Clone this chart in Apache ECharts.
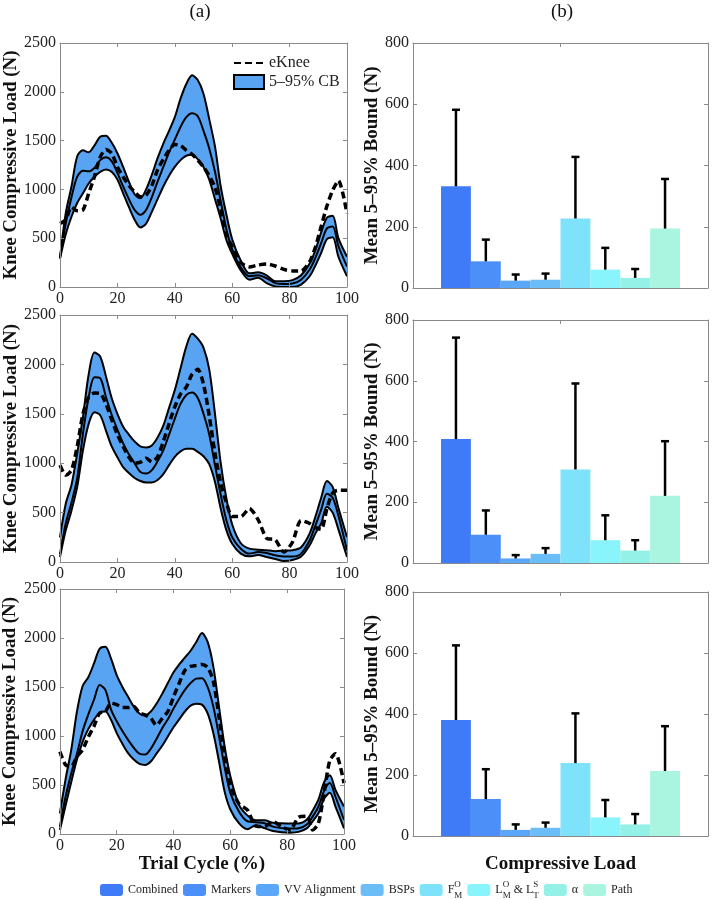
<!DOCTYPE html>
<html><head><meta charset="utf-8">
<script src="https://cdn.jsdelivr.net/npm/echarts@6/dist/echarts.min.js"></script>
<style>html,body{margin:0;padding:0;background:#fff}#c{width:713px;height:900px}</style>
</head><body><div id="c"></div>
<script>
// ---------- data ----------
const X = [0,2,4,6,8,10,12,14,16,18,20,22,24,26,28,30,32,34,36,38,40,42,44,46,48,50,52,54,56,58,60,63,66,69,72,75,78,81,84,87,89,91,93,95,97,100];
const X_TICKS = [0,20,40,60,80,100];

// panel 1
const UPPER_1 = [300,756,1029,1340,1400,1380,1450,1540,1550,1480,1370,1230,1080,950,910,1000,1150,1320,1470,1600,1740,1930,2080,2170,2120,1980,1720,1440,1030,740,490, 270,140,150,120,60,60,70,120,240, 380,560,710,730,500,310];
const MEAN_1  = [300,650,920,1130,1190,1185,1220,1300,1330,1290,1170,1030,900,790,740,790,920,1080,1230,1380,1510,1640,1740,1780,1750,1600,1420,1180,880,590,385, 200,110,120,90,40,30,35,75,180, 300,450,600,620,420,210];
const LOWER_1 = [290,540,720,860,960,1060,1130,1180,1205,1180,1100,960,820,690,610,650,770,900,1030,1140,1230,1300,1345,1355,1310,1230,1100,900,700,480,340, 170,75,95,40,5,0,0,25,110, 220,350,490,510,310,110];
const EKNEE_1 = [650,690,820,780,790,960,1130,1330,1410,1370,1230,1130,1040,975,925,940,1040,1200,1310,1400,1460,1450,1400,1360,1300,1230,1140,1020,800,540,410, 250,205,225,235,215,180,165,165,260, 410,620,830,990,1090,750];

// panel 2
const UPPER_2 = [250,590,780,1100,1470,1900,2120,2080,1880,1660,1500,1370,1290,1220,1170,1160,1180,1260,1380,1560,1740,1960,2180,2310,2260,2170,1950,1500,1000,640,380, 190,135,125,120,110,115,120,150,290, 460,650,820,760,550,250];
const MEAN_2  = [80,390,600,850,1300,1670,1870,1860,1670,1490,1340,1200,1090,1000,910,895,930,1020,1130,1290,1450,1600,1690,1715,1660,1500,1290,980,680,420,250, 135,85,100,90,68,55,55,85,220, 370,530,690,650,470,118];
const LOWER_2 = [50,320,520,760,1130,1400,1515,1485,1330,1170,1060,960,900,850,820,805,805,830,890,980,1065,1120,1145,1145,1115,1070,990,810,540,320,185, 85,57,70,50,30,10,20,55,170, 290,390,560,500,330,50];
const EKNEE_2 = [980,880,930,1170,1500,1670,1710,1705,1600,1440,1290,1170,1060,1000,1010,1050,1015,1065,1220,1400,1570,1700,1770,1900,1950,1800,1480,1100,800,600,460, 460,540,430,240,225,100,200,420,390, 350,330,540,700,725,725];

// panel 3
const UPPER_3 = [210,560,860,1250,1510,1600,1740,1890,1910,1790,1620,1500,1400,1300,1230,1210,1250,1330,1430,1540,1650,1730,1800,1870,1960,2050,1960,1710,1300,890,590, 300,190,140,140,115,110,108,108,150, 240,350,530,600,450,280];
const MEAN_3  = [75,380,620,820,1050,1220,1370,1520,1470,1270,1150,1050,960,880,820,810,870,970,1080,1170,1280,1380,1470,1540,1585,1590,1500,1300,1000,680,420, 230,130,120,110,75,60,55,58,100, 180,280,440,520,380,143];
const LOWER_3 = [40,290,530,760,940,1070,1165,1240,1250,1165,1030,920,825,760,715,705,740,820,900,995,1090,1170,1250,1310,1330,1320,1230,1030,740,430,250, 110,48,90,60,30,18,14,22,60, 130,211,360,420,280,58];
const EKNEE_3 = [840,705,690,790,860,990,1100,1235,1250,1335,1320,1290,1290,1300,1235,1215,1180,1110,1180,1250,1400,1540,1670,1710,1720,1730,1700,1560,1200,800,500, 310,245,80,75,126,75,40,170,180, 41,110,420,750,820,520];

// bar panels
const CATEGORIES = ['Combined','Markers','VV Alignment','BSPs','F_M^O','L_M^O & L_T^S','α','Path'];
const BAR_MEAN_1 = [332,87,24,27,227,60,33,194];
const BAR_UP_1   = [582,158,44,47,428,131,62,356];
const BAR_MEAN_2 = [408,93,15,30,308,75,41,221];
const BAR_UP_2   = [742,173,26,49,591,157,75,401];
const BAR_MEAN_3 = [380,121,20,27,239,61,38,213];
const BAR_UP_3   = [625,219,38,44,402,118,72,360];

// ---------- styling ----------
const FONT = 'Liberation Serif';
const AX = '#8a8a8a';
const FILL = '#58a4f2';
const COLORS = ['#3f7bf7','#4c8ff8','#5aa6f8','#6bbdf8','#7ee2fb','#89f4fc','#93f1e8','#aaf5e0'];
const GAP = 0.19;

const panels = [
  {U:UPPER_1,M:MEAN_1,L:LOWER_1,E:EKNEE_1},
  {U:UPPER_2,M:MEAN_2,L:LOWER_2,E:EKNEE_2},
  {U:UPPER_3,M:MEAN_3,L:LOWER_3,E:EKNEE_3}
];
const bars = [
  {mean:BAR_MEAN_1, up:BAR_UP_1},
  {mean:BAR_MEAN_2, up:BAR_UP_2},
  {mean:BAR_MEAN_3, up:BAR_UP_3}
];

const gridsL = [
  {left:60, top:43, width:287, height:244},
  {left:60, top:315, width:287, height:247},
  {left:59, top:589, width:285, height:245}
];
const gridsR = [
  {left:413, top:43, width:295, height:245},
  {left:413, top:320, width:295, height:243},
  {left:413, top:592, width:295, height:244}
];
const grid = gridsL.concat(gridsR).map(g => Object.assign({containLabel:false}, g));

const xAxis = [], yAxis = [];
const tick = {show:true, inside:true, length:4, lineStyle:{color:AX}};
const line = {show:true, onZero:false, lineStyle:{color:AX, width:1}};
const lab = {fontFamily:FONT, fontSize:16, color:'#222', formatter: v => String(v)};
const nameStyle = {fontFamily:FONT, fontSize:19, fontWeight:'bold', color:'#111'};

// main axes 0..5
for (let i = 0; i < 3; i++) {
  xAxis.push({gridIndex:i, type:'value', min:0, max:100, interval:20, axisLine:line, axisTick:tick, z:10,
    axisLabel:Object.assign({margin:4}, lab), splitLine:{show:false},
    name: i === 2 ? 'Trial Cycle (%)' : '', nameLocation:'middle', nameGap:20, nameTextStyle:nameStyle});
  yAxis.push({gridIndex:i, type:'value', min:0, max:2500, interval:500, axisLine:line, axisTick:tick, z:10,
    axisLabel:Object.assign({margin:4}, lab), splitLine:{show:false},
    name:'Knee Compressive Load (N)', nameLocation:'middle', nameGap:38, nameTextStyle:nameStyle});
}
for (let k = 0; k < 3; k++) {
  xAxis.push({gridIndex:3+k, type:'category', data:['Compressive Load'], axisLine:line, axisTick:{show:false},
    axisLabel:{show:false}, splitLine:{show:false},
    name: k === 2 ? 'Compressive Load' : '', nameLocation:'middle', nameGap:19, nameTextStyle:nameStyle});
  yAxis.push({gridIndex:3+k, type:'value', min:0, max:800, interval:200, axisLine:line, axisTick:tick,
    axisLabel:Object.assign({margin:4}, lab), splitLine:{show:false},
    name:'Mean 5\u201395% Bound (N)', nameLocation:'middle', nameGap:27, nameTextStyle:nameStyle});
}
// mirror axes 6..11
for (let i = 0; i < 3; i++) {
  xAxis.push({gridIndex:i, type:'value', position:'top', min:0, max:100, interval:20, axisLine:line, axisTick:tick, z:10, axisLabel:{show:false}, splitLine:{show:false}});
  yAxis.push({gridIndex:i, type:'value', position:'right', min:0, max:2500, interval:500, axisLine:line, axisTick:tick, z:10, axisLabel:{show:false}, splitLine:{show:false}});
}
for (let k = 0; k < 3; k++) {
  xAxis.push({gridIndex:3+k, type:'category', position:'top', data:['Compressive Load'], axisLine:line,
    axisTick:{show:true, inside:true, length:4, alignWithLabel:true, lineStyle:{color:AX}}, axisLabel:{show:false}, splitLine:{show:false}});
  yAxis.push({gridIndex:3+k, type:'value', position:'right', min:0, max:800, interval:200, axisLine:line, axisTick:tick, axisLabel:{show:false}, splitLine:{show:false}});
}

// data rows are [value, x] so that the stack runs on the value (y) dimension
const rows = (ys) => ys.map((y, i) => [y, X[i]]);
const ENC = {x:1, y:0};
const series = [];
panels.forEach((p, i) => {
  const diff = p.U.map((u, j) => u - p.L[j]);
  series.push({type:'line', name:'lower', xAxisIndex:i, yAxisIndex:i, data:rows(p.L), encode:ENC, stack:'band'+i,
    symbol:'none', smooth:0.3, lineStyle:{color:'#000', width:2}, z:3, silent:true});
  series.push({type:'line', name:'5\u201395% CB', xAxisIndex:i, yAxisIndex:i, data:rows(diff), encode:ENC, stack:'band'+i,
    symbol:'none', smooth:0.3, lineStyle:{color:'#000', width:2}, areaStyle:{color:FILL, opacity:1}, itemStyle:{color:FILL}, z:2});
  series.push({type:'line', name:'mean', xAxisIndex:i, yAxisIndex:i, data:rows(p.M), encode:ENC,
    symbol:'none', smooth:0.3, lineStyle:{color:'#000', width:2}, z:3});
  series.push({type:'line', name:'eKnee', xAxisIndex:i, yAxisIndex:i, data:rows(p.E), encode:ENC,
    symbol:'none', smooth:0.25, itemStyle:{color:'#000'}, lineStyle:{color:'#000', width:3.5, type:[7,4]}, z:4});
});

bars.forEach((b, k) => {
  CATEGORIES.forEach((c, j) => {
    series.push({type:'bar', name:c, xAxisIndex:3+k, yAxisIndex:3+k, data:[b.mean[j]],
      itemStyle:{color:COLORS[j]}, barGap:'0%', barCategoryGap:(GAP*100)+'%'});
  });
  series.push({type:'custom', name:'err', xAxisIndex:3+k, yAxisIndex:3+k, z:5,
    data: b.mean.map((m, j) => [0, m, b.up[j], j]),
    encode:{x:0, y:[1,2]},
    renderItem: function (params, api) {
      const j = api.value(3);
      const c0 = api.coord([api.value(0), api.value(1)]);
      const c1 = api.coord([api.value(0), api.value(2)]);
      const band = api.size([1, 0])[0];
      const bw = band * (1 - GAP) / CATEGORIES.length;
      const x = c0[0] + (j - (CATEGORIES.length - 1) / 2) * bw;
      const st = {stroke:'#000', lineWidth:2.5};
      return {type:'group', children:[
        {type:'line', shape:{x1:x, y1:c0[1], x2:x, y2:c1[1]}, style:st},
        {type:'line', shape:{x1:x-4, y1:c1[1], x2:x+4, y2:c1[1]}, style:st}
      ]};
    }
  });
});

const RICH = {
  n:{fontFamily:FONT, fontSize:12, color:'#222', lineHeight:20, verticalAlign:'middle'},
  u:{fontFamily:FONT, fontSize:9, color:'#222', width:0, lineHeight:10, verticalAlign:'top'},
  d:{fontFamily:FONT, fontSize:9, color:'#222', lineHeight:10, verticalAlign:'bottom'}
};
function legendLabel(name) {
  if (name === 'F_M^O') return '{n|F}{u|O}{d|M}';
  if (name === 'L_M^O & L_T^S') return '{n|L}{u|O}{d|M}{n| & L}{u|S}{d|T}';
  return '{n|' + name + '}';
}

const option = {
  animation:false,
  backgroundColor:'#fff',
  grid, xAxis, yAxis, series,
  legend:[
    {orient:'vertical', left:233, top:55, padding:0, itemWidth:30, itemHeight:14, itemGap:3,
     textStyle:{fontFamily:FONT, fontSize:16, color:'#222'},
     data:[{name:'eKnee', itemStyle:{opacity:0}}, {name:'5\u201395% CB', icon:'rect', itemStyle:{color:FILL, borderColor:'#000', borderWidth:2}}]},
    {orient:'horizontal', left:100, top:880, padding:0, itemWidth:23, itemHeight:12, itemGap:5,
     data:CATEGORIES, formatter:legendLabel, textStyle:{rich:RICH, fontFamily:FONT, fontSize:12, color:'#222'}}
  ],
  graphic:[
    {type:'text', x:200, y:12, style:{text:'(a)', font:'19px "Liberation Serif"', fill:'#111', textAlign:'center', textVerticalAlign:'middle'}},
    {type:'text', x:562, y:12, style:{text:'(b)', font:'19px "Liberation Serif"', fill:'#111', textAlign:'center', textVerticalAlign:'middle'}}
  ]
};
const chart = echarts.init(document.getElementById('c'), null, {width:713, height:900});
chart.setOption(option);
</script>
</body></html>
